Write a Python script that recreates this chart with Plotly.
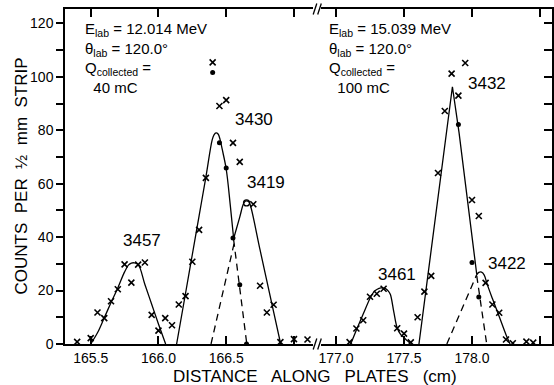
import plotly.graph_objects as go

# ---------------- data ----------------
# left panel (E = 12.014 MeV)
left_cross_x = [165.40, 165.50, 165.55, 165.60, 165.65, 165.70, 165.75, 165.80, 165.85, 165.90,
                165.95, 166.00, 166.05, 166.10, 166.15, 166.20, 166.25, 166.30, 166.35, 166.40,
                166.45, 166.50, 166.55, 166.60, 166.70, 166.75, 166.80, 166.85, 166.90, 167.00, 167.10]
left_cross_y = [0.8, 2.2, 11.8, 9.7, 16.0, 20.5, 29.8, 23.0, 29.7, 30.5,
                10.9, 5.0, 9.7, 7.0, 14.8, 17.9, 30.8, 42.7, 62.2, 105.4,
                89.1, 91.3, 75.3, 68.2, 52.3, 21.8, 11.8, 14.7, 0.7, 1.8, 1.7]
left_dot_x = [166.40, 166.45, 166.50, 166.55, 166.60, 166.65]
left_dot_y = [101.6, 75.3, 65.9, 39.7, 22.2, 0.0]
left_open_x = [166.65]
left_open_y = [52.8]

# fitted peak curves, left panel
p3457_x = [165.50, 165.55, 165.60, 165.65, 165.70, 165.75, 165.78, 165.80, 165.82, 165.85,
           165.90, 165.95, 166.00, 166.053]
p3457_y = [0.0, 4.2, 9.8, 15.5, 21.0, 27.0, 29.6, 30.3, 30.4, 29.8, 22.3, 14.9, 7.5, 0.0]
p3430_x = [166.134, 166.20, 166.25, 166.30, 166.35, 166.397, 166.41, 166.425, 166.44, 166.455,
           166.47, 166.50, 166.53, 166.555]
p3430_y = [0.0, 19.0, 33.5, 48.0, 62.5, 76.5, 78.3, 79.0, 78.6, 76.5, 73.0, 65.5, 52.0, 39.5]
p3419_x = [166.555, 166.60, 166.626, 166.64, 166.65, 166.665, 166.676, 166.75, 166.85, 166.902]
p3419_y = [39.5, 47.5, 52.3, 53.4, 53.6, 53.3, 52.3, 35.2, 12.0, 0.0]
d3419_x = [166.388, 166.56]
d3419_y = [0.0, 38.0]
d3430_x = [166.555, 166.60, 166.652]
d3430_y = [39.0, 21.5, 0.0]

# right panel (E = 15.039 MeV)
right_cross_x = [177.10, 177.15, 177.20, 177.25, 177.30, 177.35, 177.45, 177.50, 177.55, 177.60,
                 177.65, 177.70, 177.75, 177.80, 177.85, 177.90, 177.95, 178.00, 178.05, 178.10,
                 178.15, 178.20, 178.25, 178.30, 178.40, 178.45]
right_cross_y = [0.7, 5.8, 8.9, 17.7, 18.8, 20.7, 5.9, 3.9, 0.6, 10.0,
                 19.6, 25.5, 64.0, 87.2, 101.2, 93.0, 105.2, 53.9, 47.9, 22.9,
                 14.8, 11.7, 1.7, 0.3, 0.9, 0.5]
right_dot_x = [177.90, 178.00, 178.05]
right_dot_y = [82.2, 30.5, 17.6]

p3461_x = [177.108, 177.15, 177.20, 177.255, 177.28, 177.30, 177.33, 177.36, 177.385, 177.40,
           177.425, 177.45, 177.475, 177.50, 177.525, 177.545]
p3461_y = [0.0, 5.2, 11.2, 17.6, 19.6, 20.4, 21.0, 20.8, 19.8, 18.5,
           12.0, 6.0, 3.6, 2.4, 1.2, 0.3]
p3432_x = [177.61, 177.856, 177.905, 178.035]
p3432_y = [0.0, 96.3, 79.0, 26.0]
p3422_x = [178.035, 178.05, 178.07, 178.09, 178.11, 178.15, 178.20, 178.25, 178.28]
p3422_y = [26.0, 26.8, 26.9, 25.8, 22.6, 17.0, 10.3, 3.5, 0.0]
d3422_x = [177.815, 178.035]
d3422_y = [0.0, 26.0]
d3432_x = [178.035, 178.108]
d3432_y = [25.5, 0.0]

# tick labels
left_tickvals = [165.5, 166.0, 166.5, 167.0]
left_ticktext = ["165.5", "166.0", "166.5", ""]
right_tickvals = [177.0, 177.5, 178.0, 178.5]
right_ticktext = ["177.0", "177.5", "178.0", ""]
y_tickvals = list(range(0, 130, 10))
y_ticktext = [str(v) if v % 20 == 0 else "" for v in y_tickvals]

# peak labels
peak_labels = ["3457", "3430", "3419", "3432", "3461", "3422"]
peak_label_x = [165.879, 166.705, 166.794, 178.110, 177.449, 178.257]
peak_label_y = [38.6, 83.9, 60.3, 97.7, 26.2, 29.95]
peak_label_axis = ["x", "x", "x", "x2", "x2", "x2"]

# run conditions
info_left = "E<sub>lab</sub> = 12.014 MeV<br>θ<sub>lab</sub> = 120.0°<br>Q<sub>collected</sub> =<br>&nbsp;&nbsp;40 mC"
info_right = "E<sub>lab</sub> = 15.039 MeV<br>θ<sub>lab</sub> = 120.0°<br>Q<sub>collected</sub> =<br>&nbsp;&nbsp;100 mC"

# ---------------- figure ----------------
FONT = "Liberation Sans"
W, H = 554, 385
L, R, T, B = 65, 2, 9, 41
PW = W - L - R
PH = H - T - B
d1 = (313 - L) / PW
d2 = (321 - L) / PW

fig = go.Figure()

cross_marker = dict(symbol="x-thin", size=6, line=dict(width=1.6, color="black"), color="black")
dot_marker = dict(symbol="circle", size=5, color="black")
solid = dict(color="black", width=1.3)
dashed = dict(color="black", width=1.3, dash="7px,5px")


def add(x, y, xa, ya, mode, **kw):
    fig.add_trace(go.Scatter(x=x, y=y, mode=mode, xaxis=xa, yaxis=ya, showlegend=False,
                             hoverinfo="skip", **kw))


# left curves
add(p3457_x, p3457_y, "x", "y", "lines", line=solid, line_shape="spline")
add(p3430_x, p3430_y, "x", "y", "lines", line=solid, line_shape="spline")
add(p3419_x, p3419_y, "x", "y", "lines", line=solid, line_shape="spline")
add(d3419_x, d3419_y, "x", "y", "lines", line=dashed)
add(d3430_x, d3430_y, "x", "y", "lines", line=dashed)
add(left_cross_x, left_cross_y, "x", "y", "markers", marker=cross_marker)
add(left_dot_x, left_dot_y, "x", "y", "markers", marker=dot_marker)
add(left_open_x, left_open_y, "x", "y", "markers",
    marker=dict(symbol="circle-open", size=6, line=dict(width=1.3, color="black"), color="black"))

# right curves
add(p3461_x, p3461_y, "x2", "y2", "lines", line=solid, line_shape="spline")
add(p3432_x, p3432_y, "x2", "y2", "lines", line=solid)
add(p3422_x, p3422_y, "x2", "y2", "lines", line=solid, line_shape="spline")
add(d3422_x, d3422_y, "x2", "y2", "lines", line=dashed)
add(d3432_x, d3432_y, "x2", "y2", "lines", line=dashed)
add(right_cross_x, right_cross_y, "x2", "y2", "markers", marker=cross_marker)
add(right_dot_x, right_dot_y, "x2", "y2", "markers", marker=dot_marker)

x_common = dict(ticks="inside", ticklen=8, tickwidth=1.5, tickcolor="black",
                showline=True, linewidth=1.5, linecolor="black", mirror="ticks",
                showgrid=False, zeroline=False,
                tickfont=dict(family=FONT, size=14, color="black"))

fig.update_layout(
    width=W, height=H,
    margin=dict(l=L, r=R, t=T, b=B, pad=0),
    paper_bgcolor="white", plot_bgcolor="white",
    font=dict(family=FONT, color="black"),
    xaxis=dict(domain=[0, d1], range=[165.3103, 167.1406], anchor="y",
               tickvals=left_tickvals, ticktext=left_ticktext, **x_common),
    xaxis2=dict(domain=[d2, 1], range=[176.8897, 178.5882], anchor="y2",
                tickvals=right_tickvals, ticktext=right_ticktext, **x_common),
    yaxis=dict(domain=[0, 1], range=[0, 125.4], anchor="x", side="left",
               tickvals=y_tickvals, ticktext=y_ticktext,
               ticks="outside", ticklen=7, tickwidth=1.5, tickcolor="black",
               showline=True, linewidth=1.5, linecolor="black",
               showgrid=False, zeroline=False,
               tickfont=dict(family=FONT, size=14, color="black")),
    yaxis2=dict(domain=[0, 1], range=[0, 125.4], anchor="x2", side="right",
                tickvals=y_tickvals, showticklabels=False,
                ticks="inside", ticklen=8, tickwidth=1.5, tickcolor="black",
                showline=True, linewidth=1.5, linecolor="black",
                showgrid=False, zeroline=False),
)

# axis-break marks on top and bottom frame lines
shapes = []
for px in (315.0, 319.5):
    xp0 = (px - 1.8 - L) / PW
    xp1 = (px + 1.8 - L) / PW
    for yc in (0.0, 1.0):
        shapes.append(dict(type="line", xref="paper", yref="paper",
                           x0=xp0, x1=xp1, y0=yc - 5.5 / PH, y1=yc + 5.5 / PH,
                           line=dict(color="black", width=1.3)))
fig.update_layout(shapes=shapes)

ann = []
# axis titles
ann.append(dict(text="DISTANCE   ALONG   PLATES   (cm)", xref="paper", yref="paper",
                x=(314.5 - L) / PW, y=-(376 - (T + PH)) / PH, xanchor="center", yanchor="middle",
                showarrow=False, font=dict(family=FONT, size=17, color="black")))
ann.append(dict(text="COUNTS  PER  ½  mm  STRIP", xref="paper", yref="paper",
                x=(21 - L) / PW, y=0.5, xanchor="center", yanchor="middle", textangle=-90,
                showarrow=False, font=dict(family=FONT, size=17, color="black")))

# condition texts
ann.append(dict(text=info_left, xref="x", yref="y", x=165.443, y=122.2,
                xanchor="left", yanchor="top", align="left", showarrow=False,
                font=dict(family=FONT, size=15, color="black")))
ann.append(dict(text=info_right, xref="x2", yref="y2", x=176.934, y=122.2,
                xanchor="left", yanchor="top", align="left", showarrow=False,
                font=dict(family=FONT, size=15, color="black")))

for txt, xx, yy, xa in zip(peak_labels, peak_label_x, peak_label_y, peak_label_axis):
    ann.append(dict(text=txt, xref=xa, yref="y" if xa == "x" else "y2", x=xx, y=yy,
                    xanchor="center", yanchor="middle", showarrow=False,
                    font=dict(family=FONT, size=17, color="black")))

fig.update_layout(annotations=ann)

fig.write_html("out.html")
